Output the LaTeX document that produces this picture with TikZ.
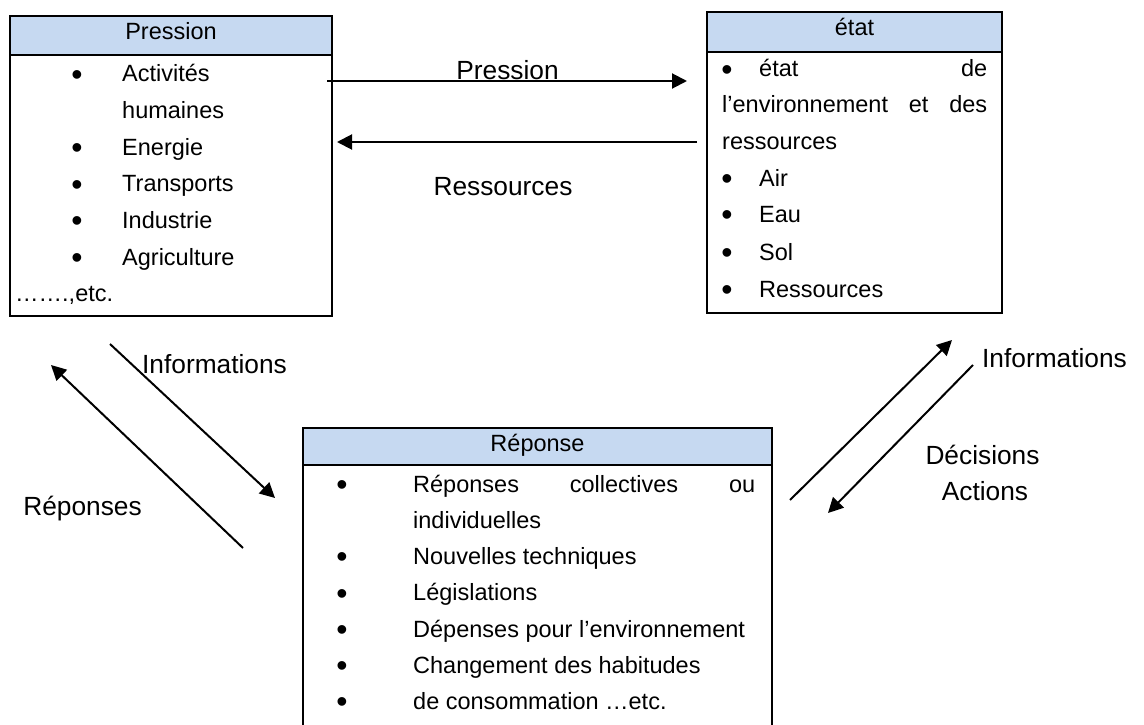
\documentclass[tikz,border=0pt]{standalone}
\usepackage{fontspec}
\setmainfont{Liberation Sans}
\usetikzlibrary{arrows.meta}
\definecolor{hdr}{RGB}{198,217,241}
\begin{document}
\begin{tikzpicture}[x=1pt,y=-1pt,
  frame/.style={draw=black,line width=2.2pt,anchor=north west,inner sep=0pt,outer sep=0pt},
  hdrbox/.style={frame,fill=hdr},
  txt/.style={anchor=base west,inner sep=0pt,font=\fontsize{23.5}{28}\selectfont},
  ctxt/.style={anchor=base,inner sep=0pt,font=\fontsize{23.5}{28}\selectfont},
  bul/.style={anchor=base,inner sep=0pt,yshift=-1.6pt,font=\fontsize{32}{34}\selectfont},
  lbl/.style={anchor=base,inner sep=0pt,font=\fontsize{26.3}{30}\selectfont},
  arr/.style={line width=2pt,-{Triangle[length=15pt,width=15pt]}}
]
\clip (0,0) rectangle (1144,725);
\fill[white] (0,0) rectangle (1144,725);

% ---------- Pression box ----------
\node[frame,minimum width=322pt,minimum height=300pt] (pbody) at (10,16) {};
\node[hdrbox,minimum width=322pt,minimum height=39pt] (phead) at (10,16) {};
\node[ctxt] (ptitle) at (171,40) {Pression};
\node[bul] (pb1) at (77,83.7) {•};
\node[txt] (pt1) at (122,81.7) {Activités};
\node[txt] (pt2) at (122,118.3) {humaines};
\node[bul] (pb3) at (77,157) {•};
\node[txt] (pt3) at (122,155) {Energie};
\node[bul] (pb4) at (77,193.6) {•};
\node[txt] (pt4) at (122,191.6) {Transports};
\node[bul] (pb5) at (77,230.3) {•};
\node[txt] (pt5) at (122,228.3) {Industrie};
\node[bul] (pb6) at (77,267) {•};
\node[txt] (pt6) at (122,265) {Agriculture};
\node[txt] (pt7) at (15,301.6) {…….,etc.};

% ---------- etat box ----------
\node[frame,minimum width=295pt,minimum height=301pt] (ebody) at (707,12) {};
\node[hdrbox,minimum width=295pt,minimum height=40pt] (ehead) at (707,12) {};
\node[ctxt] (etitle) at (854.5,36) {état};
\node[bul] (eb1) at (727,79) {•};
\node[txt] (et1) at (759,77) {\makebox[228pt][s]{état\hfill de}};
\node[txt] (et2) at (722,113) {\makebox[265pt][s]{l’environnement\hfill et\hfill des}};
\node[txt] (et3) at (722,149.5) {ressources};
\node[bul] (eb4) at (727,188) {•};
\node[txt] (et4) at (759,186) {Air};
\node[bul] (eb5) at (727,224.3) {•};
\node[txt] (et5) at (759,222.3) {Eau};
\node[bul] (eb6) at (727,262) {•};
\node[txt] (et6) at (759,260) {Sol};
\node[bul] (eb7) at (727,299) {•};
\node[txt] (et7) at (759,297) {Ressources};

% ---------- Reponse box ----------
\node[frame,minimum width=469pt,minimum height=320pt] (rbody) at (303,428) {};
\node[hdrbox,minimum width=469pt,minimum height=37pt] (rhead) at (303,428) {};
\node[ctxt] (rtitle) at (537.5,451) {Réponse};
\node[bul] (rb1) at (342,494) {•};
\node[txt] (rt1) at (413,492) {\makebox[342pt][s]{Réponses\hfill collectives\hfill ou}};
\node[txt] (rt2) at (413,528) {individuelles};
\node[bul] (rb3) at (342,566) {•};
\node[txt] (rt3) at (413,564) {Nouvelles techniques};
\node[bul] (rb4) at (342,602.5) {•};
\node[txt] (rt4) at (413,600.5) {Législations};
\node[bul] (rb5) at (342,639) {•};
\node[txt] (rt5) at (413,637) {Dépenses pour l’environnement};
\node[bul] (rb6) at (342,675) {•};
\node[txt] (rt6) at (413,673) {Changement des habitudes};
\node[bul] (rb7) at (342,711) {•};
\node[txt] (rt7) at (413,709) {de consommation …etc.};

% ---------- connectors ----------
\coordinate (a1s) at (327,81);  \coordinate (a1e) at (687,81);
\coordinate (a2s) at (697,142); \coordinate (a2e) at (337,142);
\coordinate (a3s) at (110,344); \coordinate (a3e) at (275,498);
\coordinate (a4s) at (243,548); \coordinate (a4e) at (51,365);
\coordinate (a5s) at (790,500); \coordinate (a5e) at (952,340);
\coordinate (a6s) at (973,365); \coordinate (a6e) at (828,513);
\draw[arr] (a1s) -- (a1e);
\draw[arr] (a2s) -- (a2e);
\draw[arr] (a3s) -- (a3e);
\draw[arr] (a4s) -- (a4e);
\draw[arr] (a5s) -- (a5e);
\draw[arr] (a6s) -- (a6e);

% ---------- labels ----------
\node[lbl] (lpress) at (507.5,79.5) {Pression};
\node[lbl] (lress) at (503,195) {Ressources};
\node[lbl] (linfo1) at (214.5,373) {Informations};
\node[lbl] (lrep) at (82.5,515) {Réponses};
\node[lbl] (linfo2) at (1054.5,367) {Informations};
\node[lbl] (ldec) at (982.5,464) {Décisions};
\node[lbl] (lact) at (985,500) {Actions};
\end{tikzpicture}
\end{document}
